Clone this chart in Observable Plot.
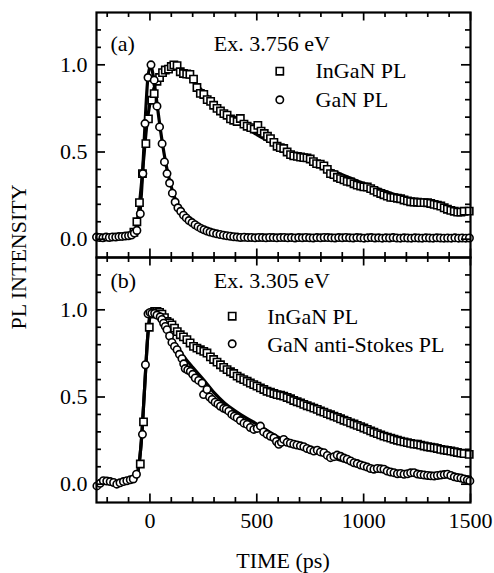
<!DOCTYPE html>
<html><head><meta charset="utf-8">
<script src="https://cdn.jsdelivr.net/npm/d3@7"></script>
<script src="https://cdn.jsdelivr.net/npm/@observablehq/plot@0.6"></script>
<style>body{margin:0;background:#fff}</style>
</head><body><div id="chart"></div>
<script>
// Panel (a): Ex. 3.756 eV
const aInGaN_t = [-75,-61,-49,-35,-19,-7,9,20,33,45,59,72,87,100,112,127,142,157,172,187,204,220,236,252,268,284,298,314,330,346,361,377,392,408,423,440,455,472,488,505,520,535,550,564,580,595,610,626,642,658,673,690,705,720,735,750,765,780,797,814,830,845,861,877,892,908,923,939,955,970,986,1001,1017,1033,1048,1064,1080,1095,1111,1127,1142,1158,1173,1189,1205,1220,1236,1252,1267,1283,1299,1314,1330,1345,1361,1377,1392,1408,1424,1440,1455,1470,1494];
const aInGaN_v = [0.04,0.10,0.21,0.376,0.548,0.69,0.797,0.835,0.906,0.927,0.955,0.97,0.975,0.99,1.0,0.995,0.96,0.95,0.947,0.945,0.918,0.87,0.836,0.83,0.80,0.79,0.768,0.75,0.735,0.72,0.711,0.69,0.682,0.675,0.692,0.66,0.648,0.64,0.632,0.653,0.62,0.606,0.59,0.577,0.555,0.533,0.525,0.52,0.50,0.485,0.478,0.475,0.471,0.468,0.466,0.46,0.445,0.433,0.43,0.42,0.40,0.376,0.37,0.355,0.347,0.34,0.332,0.328,0.318,0.31,0.305,0.30,0.299,0.29,0.28,0.27,0.262,0.255,0.247,0.24,0.238,0.235,0.232,0.225,0.22,0.215,0.213,0.212,0.21,0.21,0.209,0.205,0.20,0.195,0.19,0.18,0.172,0.165,0.16,0.155,0.155,0.16,0.161];
const aGaN_t = [-250,-235,-220,-205,-190,-175,-160,-145,-130,-115,-100,-86,-73,-61,-45,-33,-23,-9,5,20,33,45,57,68,80,92,105,118,131,144,157,170,183,197,211,225,239,253,267,281,296,312,328,344,360,376,392,408,424,441,458,475,492,509,526,543,560,577,594,611,628,645,662,679,696,713,730,747,764,781,798,815,832,849,866,883,900,917,934,951,968,985,1002,1019,1036,1053,1070,1087,1104,1121,1138,1155,1172,1189,1206,1223,1240,1257,1274,1291,1308,1325,1342,1359,1376,1393,1410,1427,1444,1461,1478,1495];
const aGaN_v = [0.012,0.01,0.008,0.012,0.01,0.013,0.012,0.015,0.016,0.018,0.02,0.024,0.035,0.05,0.146,0.376,0.663,0.927,1.0,0.912,0.763,0.644,0.548,0.443,0.376,0.322,0.264,0.213,0.18,0.16,0.138,0.122,0.107,0.095,0.083,0.072,0.062,0.054,0.047,0.041,0.036,0.031,0.027,0.023,0.02,0.017,0.014,0.012,0.01,0.011,0.009,0.01,0.008,0.01,0.009,0.008,0.01,0.009,0.008,0.009,0.01,0.008,0.009,0.007,0.009,0.008,0.01,0.008,0.007,0.009,0.008,0.01,0.009,0.008,0.007,0.009,0.008,0.01,0.008,0.007,0.009,0.008,0.006,0.008,0.009,0.007,0.008,0.006,0.008,0.007,0.009,0.007,0.006,0.008,0.007,0.006,0.008,0.007,0.006,0.008,0.007,0.006,0.008,0.007,0.006,0.007,0.006,0.008,0.006,0.007,0.006,0.007];
const aInGaNFit_t = [-75,-60,-45,-30,-15,0,20,40,60,80,100,130,160,200,250,300,350,400,450,500,600,700,800,900,1000,1100,1200,1300,1400,1500];
const aInGaNFit_v = [0.02,0.1,0.25,0.45,0.65,0.78,0.87,0.93,0.965,0.985,0.99,0.985,0.96,0.91,0.845,0.78,0.725,0.678,0.638,0.60,0.535,0.475,0.42,0.37,0.32,0.275,0.235,0.2,0.17,0.15];
const aGaNFit_t = [-75,-60,-45,-35,-23,-10,0,8,20,35,50,65,80,100,125,150,175,200,250,300,350,400,500,600];
const aGaNFit_v = [0.02,0.06,0.17,0.36,0.66,0.92,0.99,0.98,0.9,0.76,0.62,0.5,0.4,0.3,0.21,0.155,0.115,0.085,0.05,0.03,0.018,0.01,0.006,0.005];

// Panel (b): Ex. 3.305 eV
const bInGaN_t = [-45,-30,-3,10,22,33,45,56,68,80,92,103,115,128,142,157,173,188,204,220,236,252,267,283,298,314,330,345,361,377,392,408,423,439,455,470,486,501,517,533,548,564,580,595,611,626,642,658,673,689,705,720,736,752,767,783,798,814,830,845,861,877,892,908,923,939,955,970,986,1001,1017,1033,1048,1064,1080,1095,1111,1127,1142,1158,1173,1189,1205,1220,1236,1252,1267,1283,1299,1314,1330,1345,1361,1377,1392,1408,1424,1439,1455,1470,1494];
const bInGaN_v = [0.116,0.357,0.90,0.975,0.99,0.99,0.985,0.975,0.955,0.933,0.925,0.914,0.895,0.875,0.857,0.845,0.829,0.81,0.79,0.78,0.771,0.762,0.752,0.73,0.715,0.70,0.685,0.67,0.657,0.645,0.635,0.62,0.609,0.6,0.59,0.58,0.571,0.562,0.552,0.543,0.533,0.527,0.52,0.514,0.51,0.505,0.497,0.49,0.48,0.473,0.466,0.458,0.45,0.443,0.436,0.429,0.42,0.413,0.405,0.398,0.39,0.383,0.375,0.367,0.36,0.352,0.345,0.337,0.33,0.322,0.314,0.306,0.298,0.29,0.283,0.276,0.27,0.264,0.258,0.252,0.247,0.243,0.238,0.234,0.23,0.229,0.224,0.219,0.215,0.212,0.209,0.205,0.2,0.196,0.193,0.19,0.186,0.182,0.178,0.175,0.171];
const bGaN_t = [-248,-233,-218,-202,-186,-170,-155,-140,-124,-108,-92,-78,-63,-35,-21,-9,0,9,22,33,48,56,64,72,80,92,103,115,127,138,150,158,165,177,189,200,212,228,244,251,267,279,291,305,318,330,345,357,369,383,395,408,423,440,455,470,486,502,517,532,548,564,580,592,603,615,626,642,657,673,688,704,720,735,751,767,783,798,814,830,845,861,876,892,908,923,939,955,970,986,1001,1017,1032,1048,1064,1080,1095,1110,1126,1142,1158,1173,1189,1205,1220,1236,1252,1267,1283,1299,1314,1330,1345,1361,1377,1392,1408,1424,1439,1455,1470,1485,1497];
const bGaN_v = [-0.01,0.005,0.02,0.018,0.015,0.01,0.0,0.008,0.015,0.02,0.025,0.03,0.057,0.286,0.685,0.977,0.985,0.98,0.98,0.97,0.96,0.945,0.923,0.905,0.886,0.85,0.813,0.79,0.771,0.745,0.72,0.69,0.663,0.655,0.647,0.63,0.609,0.595,0.58,0.514,0.543,0.5,0.486,0.47,0.46,0.447,0.435,0.43,0.419,0.40,0.39,0.381,0.365,0.35,0.343,0.325,0.314,0.32,0.333,0.30,0.286,0.275,0.266,0.245,0.229,0.24,0.257,0.24,0.235,0.229,0.225,0.22,0.215,0.205,0.197,0.19,0.195,0.185,0.181,0.165,0.152,0.158,0.167,0.16,0.15,0.143,0.133,0.123,0.118,0.11,0.105,0.098,0.09,0.086,0.09,0.088,0.086,0.075,0.07,0.066,0.06,0.062,0.057,0.06,0.065,0.066,0.058,0.055,0.053,0.05,0.048,0.047,0.05,0.052,0.055,0.057,0.05,0.042,0.038,0.035,0.03,0.025,0.019];
const bInGaNFit_t = [-70,-55,-40,-25,-10,5,25,50,100,150,200,250,300,400,500,600,700,800,900,1000,1100,1200,1300,1400,1500];
const bInGaNFit_v = [0.02,0.08,0.25,0.55,0.85,0.98,0.995,0.98,0.92,0.855,0.8,0.755,0.712,0.63,0.565,0.515,0.468,0.42,0.372,0.325,0.28,0.24,0.21,0.19,0.17];
const bGaNFit_t = [-70,-55,-40,-25,-10,0,15,40,80,120,160,200,250,300,350,400,450,500,600,700,800,900,1000,1100,1200,1300,1400,1500];
const bGaNFit_v = [0.02,0.08,0.25,0.55,0.85,0.97,0.98,0.95,0.88,0.8,0.73,0.67,0.6,0.525,0.465,0.42,0.38,0.345,0.27,0.215,0.17,0.135,0.105,0.082,0.065,0.052,0.045,0.04];

// Axes
const xMajor = [0, 500, 1000, 1500];
const xMinor = [-200, -100, 100, 200, 300, 400, 600, 700, 800, 900, 1100, 1200, 1300, 1400];
const yMajor = [0, 0.5, 1.0];
const yMinor = [0.1, 0.2, 0.3, 0.4, 0.6, 0.7, 0.8, 0.9, 1.1, 1.2];

const rows = (panel, ts, vs) => ts.map((t, i) => ({panel, t, v: vs[i]}));
const squares = [...rows("a", aInGaN_t, aInGaN_v), ...rows("b", bInGaN_t, bInGaN_v)];
const circles = [...rows("a", aGaN_t, aGaN_v), ...rows("b", bGaN_t, bGaN_v)];
const fitsSq = [...rows("a", aInGaNFit_t, aInGaNFit_v), ...rows("b", bInGaNFit_t, bInGaNFit_v)];
const fitsCi = [...rows("a", aGaNFit_t, aGaNFit_v), ...rows("b", bGaNFit_t, bGaNFit_v)];

const W = 494, H = 573, ML = 96, MR = 24, MT = 12, MB = 71;
const innerW = W - ML - MR, innerH = (H - MT - MB) / 2;
const FS = 22;
const SQ_R = 4.1, CI_R = 3.7, SW = 1.6;
const txt = (panel, s, dx, dy) => Plot.text([{panel, s}], {fy: "panel", text: "s", frameAnchor: "top-left", dx, dy, textAnchor: "start", lineAnchor: "bottom", fontSize: FS, fill: "black"});
const sym = (panel, symbol, dx, dy) => Plot.dot([{panel}], {fy: "panel", frameAnchor: "top-left", dx, dy, symbol, r: symbol === "square" ? SQ_R : CI_R, fill: "white", stroke: "black", strokeWidth: SW});

const chart = Plot.plot({
  width: W, height: H, marginLeft: ML, marginRight: MR, marginTop: MT, marginBottom: MB,
  x: {domain: [-250, 1500]},
  y: {domain: [-0.105, 1.3]},
  fy: {domain: ["a", "b"], padding: 0, axis: null},
  style: {fontFamily: "'Liberation Serif', 'DejaVu Serif', serif", fontSize: FS + "px", color: "black", background: "white"},
  marks: [
    Plot.line(fitsSq, {x: "t", y: "v", fy: "panel", curve: "monotone-x", stroke: "black", strokeWidth: 3.2}),
    Plot.line(fitsCi, {x: "t", y: "v", fy: "panel", curve: "monotone-x", stroke: "black", strokeWidth: 3.2}),
    Plot.dot(squares, {x: "t", y: "v", fy: "panel", symbol: "square", r: SQ_R, fill: "white", stroke: "black", strokeWidth: SW}),
    Plot.dot(circles, {x: "t", y: "v", fy: "panel", symbol: "circle", r: CI_R, fill: "white", stroke: "black", strokeWidth: SW}),
    // inward ticks on all four sides
    Plot.tickX(xMajor, {x: d => d, insetBottom: innerH - 8.5, strokeWidth: 1.7}),
    Plot.tickX(xMajor, {x: d => d, insetTop: innerH - 8.5, strokeWidth: 1.7}),
    Plot.tickX(xMinor, {x: d => d, insetBottom: innerH - 5, strokeWidth: 1.7}),
    Plot.tickX(xMinor, {x: d => d, insetTop: innerH - 5, strokeWidth: 1.7}),
    Plot.tickY(yMajor, {y: d => d, insetRight: innerW - 9, strokeWidth: 1.7}),
    Plot.tickY(yMajor, {y: d => d, insetLeft: innerW - 9, strokeWidth: 1.7}),
    Plot.tickY(yMinor, {y: d => d, insetRight: innerW - 5, strokeWidth: 1.7}),
    Plot.tickY(yMinor, {y: d => d, insetLeft: innerW - 5, strokeWidth: 1.7}),
    Plot.frame({stroke: "black", strokeWidth: 2.2}),
    Plot.axisY({ticks: yMajor, tickSize: 0, tickPadding: 9, tickFormat: ".1f", fontSize: FS, label: null}),
    Plot.axisX({ticks: xMajor, tickSize: 0, tickPadding: 10, tickFormat: d => String(d), fontSize: FS, label: null}),
    // panel annotations and legends
    txt("a", "(a)", 14, 38.7),
    txt("a", "Ex. 3.756 eV", 117.3, 38.7),
    sym("a", "square", 183.3, 58.7),
    sym("a", "circle", 183.3, 87.3),
    txt("a", "InGaN PL", 219, 65.3),
    txt("a", "GaN PL", 219, 94),
    txt("b", "(b)", 14, 30),
    txt("b", "Ex. 3.305 eV", 117.3, 30),
    sym("b", "square", 135.7, 58.7),
    sym("b", "circle", 135.7, 86.3),
    txt("b", "InGaN PL", 170.7, 66.3),
    txt("b", "GaN anti-Stokes PL", 170.7, 94)
  ]
});

const svg = d3.select(chart);
svg.append("text").attr("x", ML + innerW / 2).attr("y", 568).attr("text-anchor", "middle")
  .attr("font-size", FS).attr("fill", "black").text("TIME (ps)");
svg.append("text").attr("transform", `translate(26,${MT + innerH})rotate(-90)`).attr("text-anchor", "middle")
  .attr("font-size", FS).attr("fill", "black").text("PL INTENSITY");
document.getElementById("chart").appendChild(chart);
</script>
</body></html>
